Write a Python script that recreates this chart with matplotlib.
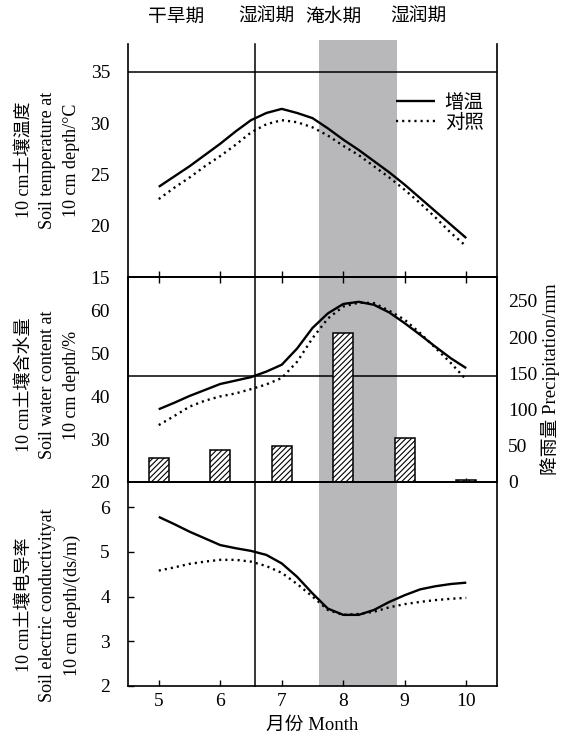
import numpy as np
import matplotlib
matplotlib.use('Agg')
import matplotlib.pyplot as plt
from matplotlib.transforms import blended_transform_factory
from matplotlib.patches import Rectangle
from matplotlib.lines import Line2D

plt.rcParams['font.family'] = ['Liberation Serif', 'Noto Sans CJK SC']
plt.rcParams['hatch.linewidth'] = 0.8
plt.rcParams['axes.unicode_minus'] = False

# ---------------- data ----------------
months = [5, 6, 7, 8, 9, 10]
month_curve = [5.0, 5.25, 5.5, 5.75, 6.0, 6.25, 6.5, 6.75, 7.0, 7.25, 7.5,
               7.75, 8.0, 8.25, 8.5, 8.75, 9.0, 9.25, 9.5, 9.75, 10.0]

temp_warm = [23.8, 24.8, 25.8, 26.9, 28.0, 29.2, 30.3, 31.0, 31.4, 31.0, 30.5,
             29.5, 28.4, 27.4, 26.3, 25.2, 24.0, 22.7, 21.4, 20.1, 18.8]
temp_ctrl = [22.6, 23.7, 24.7, 25.8, 26.8, 27.9, 29.1, 29.9, 30.3, 30.1, 29.6,
             28.8, 27.8, 26.9, 25.8, 24.7, 23.5, 22.2, 20.8, 19.3, 18.0]
water_warm = [37.0, 38.5, 40.1, 41.5, 42.9, 43.7, 44.5, 45.8, 47.4, 51.2, 56.0,
              59.4, 61.6, 62.1, 61.4, 59.6, 57.1, 54.4, 51.6, 48.9, 46.6]
water_ctrl = [33.3, 35.4, 37.6, 39.0, 40.0, 40.7, 41.7, 42.8, 44.3, 48.1, 53.6,
              58.2, 61.0, 61.9, 61.8, 60.0, 57.9, 54.8, 51.3, 47.8, 43.9]
ec_warm = [5.78, 5.62, 5.45, 5.30, 5.15, 5.08, 5.02, 4.93, 4.74, 4.44, 4.07,
           3.73, 3.59, 3.59, 3.70, 3.88, 4.03, 4.16, 4.23, 4.28, 4.31]
ec_ctrl = [4.58, 4.65, 4.73, 4.78, 4.82, 4.82, 4.78, 4.68, 4.53, 4.28, 4.00,
           3.70, 3.59, 3.61, 3.66, 3.76, 3.83, 3.88, 3.92, 3.95, 3.97]
precip = [33, 44, 50, 206, 61, 3]
precip_err = [0, 0, 0, 0, 0, 3]

period_labels = ['干旱期', '湿润期', '淹水期', '湿润期']
period_pos = [5.28, 6.75, 7.84, 9.22]
dry_wet_boundary = 6.56
flood_start, flood_end = 7.6, 8.88

legend_labels = ['增温', '对照']

# ---------------- figure ----------------
W, H = 563, 739
fig = plt.figure(figsize=(W / 100, H / 100), dpi=100)

def fy(px):
    return 1 - px / H

L = 128 / W
R = 497 / W
ax1 = fig.add_axes([L, fy(277), R - L, fy(44) - fy(277)])
ax2 = fig.add_axes([L, fy(482), R - L, fy(277) - fy(482)])
ax3 = fig.add_axes([L, fy(686), R - L, fy(482) - fy(686)])

TICK_FS = 14
LAB_FS = 13
solid_kw = dict(color='black', lw=1.7, solid_capstyle='butt', solid_joinstyle='round')
dot_kw = dict(color='black', lw=1.7, linestyle=(0, (0.9, 1.7)))

for ax in (ax1, ax2, ax3):
    ax.set_facecolor('none')
    ax.set_xlim(4.5, 10.5)
    ax.set_xticks(months)
    for s in ax.spines.values():
        s.set_linewidth(1.2)
    ax.tick_params(axis='both', direction='in', length=4, width=1.0,
                   labelsize=TICK_FS)

# Panel 1: temperature
ax1.plot(month_curve, temp_warm, label=legend_labels[0], **solid_kw)
ax1.plot(month_curve, temp_ctrl, label=legend_labels[1], **dot_kw)
ax1.set_ylim(15, 37.73)
ax1.set_yticks([15, 20, 25, 30, 35])
ax1.axhline(35, color='black', lw=1.1)
ax1.spines['top'].set_visible(False)
ax1.tick_params(axis='x', labelbottom=False)
ax1.tick_params(axis='y', length=0, pad=13)
leg = ax1.legend(loc='upper right', bbox_to_anchor=(0.985, 0.82), frameon=False,
                 fontsize=14, handlelength=2.0, handletextpad=0.5,
                 labelspacing=0.12, borderaxespad=0)

# Panel 2: water content + precipitation
ax2.plot(month_curve, water_warm, **solid_kw, zorder=3)
ax2.plot(month_curve, water_ctrl, **dot_kw, zorder=3)
ax2.set_ylim(20, 67.9)
ax2.set_yticks([20, 30, 40, 50, 60])
ax2.axhline(44.8, color='black', lw=1.1)
ax2.tick_params(axis='x', top=True, bottom=False, labelbottom=False)
ax2.tick_params(axis='y', length=0, pad=13)
ax2b = ax2.twinx()
ax2b.set_facecolor('none')
ax2b.bar(months, precip, width=0.32, facecolor='white', edgecolor='black',
         hatch='//////', linewidth=1.1, yerr=precip_err,
         error_kw=dict(ecolor='black', elinewidth=1.0, capsize=0), zorder=2)
ax2b.set_ylim(0, 283)
ax2b.set_yticks([0, 50, 100, 150, 200, 250])
ax2b.tick_params(axis='y', length=0, pad=8, labelsize=TICK_FS)
for s in ax2b.spines.values():
    s.set_linewidth(1.2)
ax2b.set_ylabel('降雨量 Precipitation/mm', fontsize=LAB_FS + 0.5, labelpad=2)

# Panel 3: electrical conductivity
ax3.plot(month_curve, ec_warm, **solid_kw)
ax3.plot(month_curve, ec_ctrl, **dot_kw)
ax3.set_ylim(2, 6.56)
ax3.set_yticks([2, 3, 4, 5, 6])
ax3.tick_params(axis='y', length=4, pad=13)
ax3.tick_params(axis='x', pad=5)
ax3.set_xlabel('月份 Month', fontsize=LAB_FS + 0.5, labelpad=5)

# shared vertical line and flood shading across panels
tr = blended_transform_factory(ax3.transData, fig.transFigure)
fig.patches.append(Rectangle((flood_start, fy(686)), flood_end - flood_start,
                             fy(40) - fy(686), transform=tr, facecolor='#b8b8ba',
                             edgecolor='none', zorder=-1))
fig.lines.append(Line2D([dry_wet_boundary, dry_wet_boundary], [fy(686), fy(44)],
                        transform=tr, color='black', lw=1.1, zorder=5))

# period labels at top
for lab, x in zip(period_labels, period_pos):
    fig.text(x, fy(17), lab, transform=tr, ha='center', va='center', fontsize=13.5)

# left-side multi-line labels
def left_label(lines, ypix):
    xs = [25, 48, 72]
    for t, x in zip(lines, xs):
        fig.text(x / W, fy(ypix), t, rotation=90, ha='center', va='center',
                 fontsize=LAB_FS)

left_label(['10 cm土壤温度', 'Soil temperature at', '10 cm depth/°C'], 160)
left_label(['10 cm土壤含水量', 'Soil water content at', '10 cm depth/%'], 385)
left_label(['10 cm土壤电导率', 'Soil electric conductivityat', '10 cm depth/(ds/m)'], 605)

fig.savefig('out.png', dpi=100)
